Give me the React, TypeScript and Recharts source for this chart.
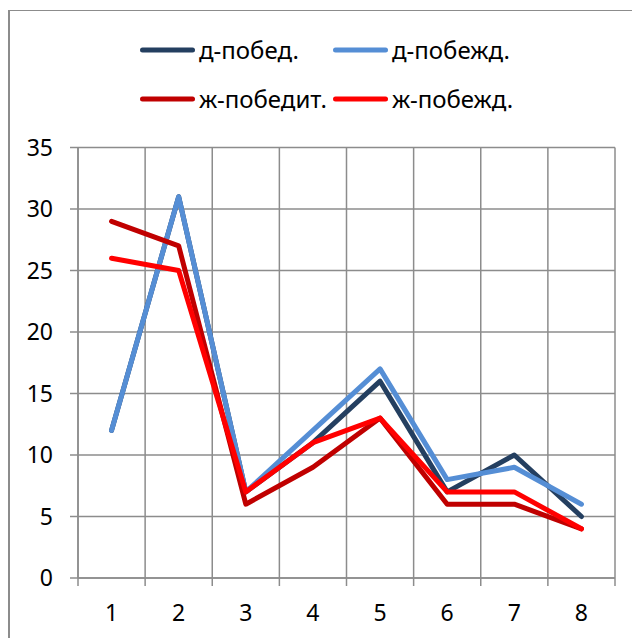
import React from 'react';
import { LineChart, Line, XAxis, YAxis, CartesianGrid } from 'recharts';

const categories = ['1', '2', '3', '4', '5', '6', '7', '8'];
const xValues = [1, 2, 3, 4, 5, 6, 7, 8];
const gridBounds = [0.5, 1.5, 2.5, 3.5, 4.5, 5.5, 6.5, 7.5, 8.5];
const yTicks = [0, 5, 10, 15, 20, 25, 30, 35];

const seriesNames = ['д-побед.', 'д-побежд.', 'ж-победит.', 'ж-побежд.'];
const seriesColors = ['#243F60', '#558ED5', '#C00000', '#FF0000'];

const dPobed = [12, 31, 7, 11, 16, 7, 10, 5];
const dPobezhd = [12, 31, 7, 12, 17, 8, 9, 6];
const zhPobedit = [29, 27, 6, 9, 13, 6, 6, 4];
const zhPobezhd = [26, 25, 7, 11, 13, 7, 7, 4];

const seriesValues = [dPobed, dPobezhd, zhPobedit, zhPobezhd];
const keys = ['s0', 's1', 's2', 's3'];

const data = xValues.map((c, i) => {
  const row: Record<string, number> = { x: c };
  keys.forEach((k, j) => {
    row[k] = seriesValues[j][i];
  });
  return row;
});

const FONT = "'Noto Sans', 'Open Sans', sans-serif";
const GRID = '#8c8c8c';

const CHART_W = 632;
const CHART_H = 630;
const MARGIN = { top: 139.5, right: 25, bottom: 20, left: 10 };
const Y_AXIS_W = 60;
const PLOT_W = CHART_W - MARGIN.left - MARGIN.right - Y_AXIS_W;
const HALF_BAND = PLOT_W / (categories.length * 2);

const legendLayout = [
  { left: 132, top: 27 },
  { left: 325, top: 27 },
  { left: 132, top: 76 },
  { left: 325, top: 76 },
];

const XTick = (props: any) => {
  const { x, y, payload } = props;
  const i = gridBounds.indexOf(payload.value);
  if (i < 0 || i >= categories.length) return <g />;
  return (
    <text
      x={x + HALF_BAND}
      y={y}
      dy="0.72em"
      textAnchor="middle"
      fill="#000"
      fontFamily={FONT}
      fontSize={23}
    >
      {categories[i]}
    </text>
  );
};

export default function App() {
  return (
    <div style={{ position: 'relative', width: CHART_W, height: CHART_H, overflow: 'hidden' }}>
      <div
        style={{
          position: 'absolute',
          left: 0,
          top: 2,
          width: 800,
          height: 800,
          borderLeft: `2px solid ${GRID}`,
          borderTop: `1.5px solid ${GRID}`,
        }}
      />
      {seriesNames.map((name, i) => (
        <div
          key={name}
          style={{
            position: 'absolute',
            left: legendLayout[i].left,
            top: legendLayout[i].top,
            height: 30,
            display: 'flex',
            alignItems: 'center',
            fontFamily: FONT,
            fontSize: 24,
            lineHeight: '30px',
            color: '#000',
            whiteSpace: 'nowrap',
          }}
        >
          <svg width={55} height={10} style={{ marginRight: 4, display: 'block' }}>
            <line x1={2.5} y1={5} x2={52.5} y2={5} stroke={seriesColors[i]} strokeWidth={5} strokeLinecap="round" />
          </svg>
          <span>{name}</span>
        </div>
      ))}
      <div style={{ position: 'absolute', left: 0, top: 0 }}>
        <LineChart width={CHART_W} height={CHART_H} data={data} margin={MARGIN}>
          <CartesianGrid stroke={GRID} strokeWidth={1.5} />
          <XAxis
            dataKey="x"
            type="number"
            domain={[0.5, 8.5]}
            ticks={gridBounds}
            interval={0}
            height={40}
            axisLine={{ stroke: GRID, strokeWidth: 1.5 }}
            tickLine={{ stroke: GRID, strokeWidth: 1.5 }}
            tickSize={8}
            tickMargin={18}
            tick={<XTick />}
          />
          <YAxis
            domain={[0, 35]}
            ticks={yTicks}
            interval={0}
            width={Y_AXIS_W}
            axisLine={{ stroke: GRID, strokeWidth: 1.5 }}
            tickLine={{ stroke: GRID, strokeWidth: 1.5 }}
            tickSize={8}
            tickMargin={17}
            tick={{ fill: '#000', fontFamily: FONT, fontSize: 23 }}
          />
          {keys.map((k, i) => (
            <Line
              key={k}
              dataKey={k}
              name={seriesNames[i]}
              type="linear"
              stroke={seriesColors[i]}
              strokeWidth={5}
              strokeLinecap="round"
              strokeLinejoin="round"
              dot={false}
              activeDot={false}
              isAnimationActive={false}
            />
          ))}
        </LineChart>
      </div>
    </div>
  );
}
